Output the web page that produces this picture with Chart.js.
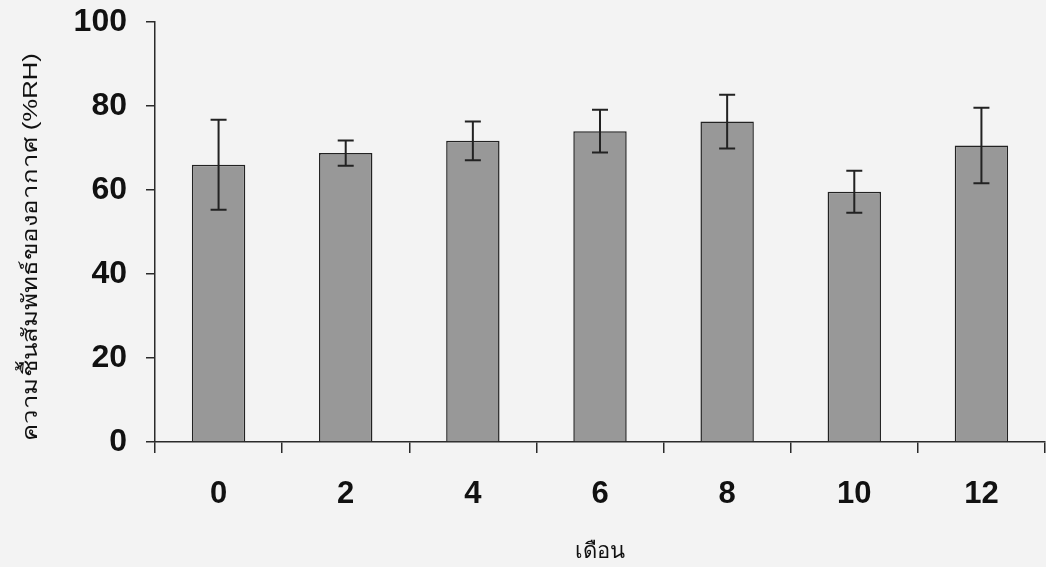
<!DOCTYPE html>
<html>
<head>
<meta charset="utf-8">
<script src="https://cdn.jsdelivr.net/npm/chart.js@4/dist/chart.umd.min.js"></script>
<style>
  html, body { margin: 0; padding: 0; background: #f3f3f3; }
  #wrap { width: 1046px; height: 567px; }
</style>
</head>
<body>
<div id="wrap"><canvas id="c" width="1046" height="567"></canvas></div>
<script>
const months = ['0', '2', '4', '6', '8', '10', '12'];
const humidityMean = [66, 68.8, 71.7, 74, 76.3, 59.6, 70.6];
const humidityErr = [10.7, 3, 4.6, 5.1, 6.4, 5, 9];
const yTicks = [0, 20, 40, 60, 80, 100];
const yTitle = 'ความชื้นสัมพัทธ์ของอากาศ (%RH)';
const xTitle = 'เดือน';

const axisColor = '#2a2a2a';

const errorBarPlugin = {
  id: 'errorBars',
  afterDatasetsDraw(chart) {
    const ctx = chart.ctx;
    const meta = chart.getDatasetMeta(0);
    const y = chart.scales.y;
    ctx.save();
    ctx.strokeStyle = '#222';
    ctx.lineWidth = 2;
    meta.data.forEach((bar, i) => {
      const m = humidityMean[i], e = humidityErr[i];
      const yt = y.getPixelForValue(m + e);
      const yb = y.getPixelForValue(m - e);
      const x = bar.x;
      const cap = 8;
      ctx.beginPath();
      ctx.moveTo(x, yt); ctx.lineTo(x, yb);
      ctx.moveTo(x - cap, yt); ctx.lineTo(x + cap, yt);
      ctx.moveTo(x - cap, yb); ctx.lineTo(x + cap, yb);
      ctx.stroke();
    });
    ctx.restore();
  }
};

// Y-axis title: drawn rotated, stretched along its length like the original
const yTitlePlugin = {
  id: 'yTitle',
  afterDraw(chart) {
    const ctx = chart.ctx;
    const area = chart.chartArea;
    ctx.save();
    ctx.font = '21px "Liberation Sans", "Noto Sans", sans-serif';
    ctx.fillStyle = '#111';
    ctx.textAlign = 'center';
    ctx.textBaseline = 'alphabetic';
    const w = ctx.measureText(yTitle).width;
    const target = 388;
    const cy = area.top + (area.bottom - area.top) * 0.536;
    ctx.translate(37, cy);
    ctx.rotate(-Math.PI / 2);
    ctx.scale(target / w, 1);
    ctx.fillText(yTitle, 0, 0);
    ctx.restore();
  }
};

new Chart(document.getElementById('c'), {
  type: 'bar',
  data: {
    labels: months,
    datasets: [{
      data: humidityMean,
      backgroundColor: '#989898',
      borderColor: '#222',
      borderWidth: 1.5,
      categoryPercentage: 1,
      barPercentage: 0.42
    }]
  },
  options: {
    responsive: false,
    animation: false,
    events: [],
    layout: { padding: { top: 22, right: 1, left: 0, bottom: 0 } },
    plugins: { legend: { display: false }, tooltip: { enabled: false } },
    scales: {
      x: {
        grid: {
          display: true, drawOnChartArea: false, offset: true,
          tickLength: 11, color: axisColor, lineWidth: 1.5
        },
        border: { display: true, color: axisColor, width: 1.5 },
        ticks: {
          color: '#111', padding: 23,
          font: { family: '"Liberation Sans", Arial, sans-serif', size: 31, weight: 'bold' }
        },
        title: {
          display: true, text: xTitle, color: '#111',
          font: { family: '"Liberation Sans", "Noto Sans", sans-serif', size: 22 },
          padding: { top: 0, bottom: 2 }
        },
        afterFit(scale) {
          scale.height = 125;
          scale.paddingLeft = 0; scale.paddingRight = 0;
        }
      },
      y: {
        min: 0, max: 100,
        afterBuildTicks(scale) { scale.ticks = yTicks.map(v => ({ value: v })); },
        grid: {
          display: true, drawOnChartArea: false,
          tickLength: 9, color: axisColor, lineWidth: 1.5
        },
        border: { display: true, color: axisColor, width: 1.5 },
        ticks: {
          color: '#111', padding: 19,
          font: { family: '"Liberation Sans", Arial, sans-serif', size: 32, weight: 'bold' }
        },
        title: { display: false },
        afterFit(scale) {
          scale.width = 155;
          scale.paddingTop = 0; scale.paddingBottom = 0;
        }
      }
    }
  },
  plugins: [errorBarPlugin, yTitlePlugin]
});
</script>
</body>
</html>
